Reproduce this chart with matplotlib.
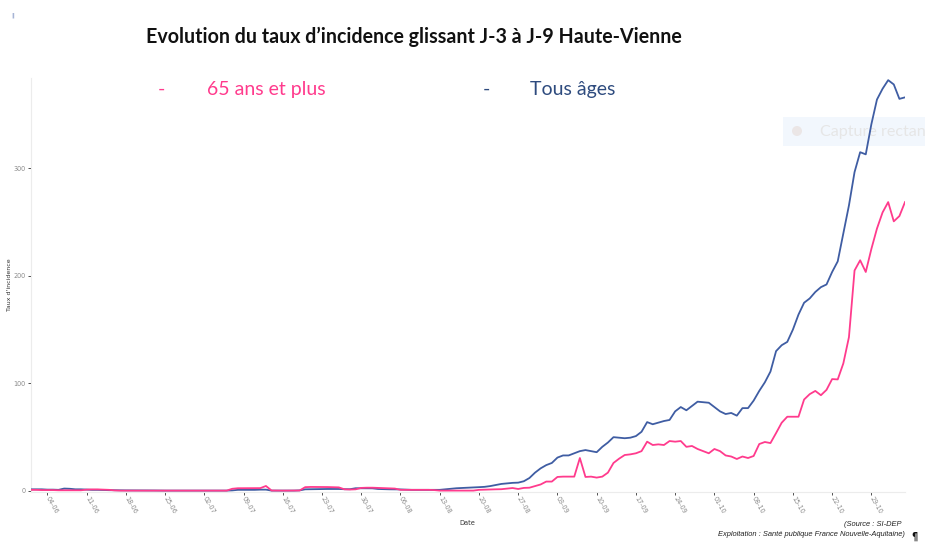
import matplotlib
matplotlib.use("Agg")
import matplotlib.pyplot as plt
import matplotlib.dates as mdates
from matplotlib.patches import Rectangle, Ellipse
import pandas as pd

# ---- data ----
start_date = "2020-06-01"
n_days = 157
tous_ages = ([1.5, 1.5, 1.5, 1.2, 1.2, 1.0, 2.2, 2.0, 1.5, 1.5, 1.2, 1.0, 1.0]
             + [0.8, 0.7, 0.6, 0.5, 0.5, 0.5, 0.4, 0.4, 0.4, 0.4, 0.3, 0.3, 0.3, 0.3,
                0.3, 0.3, 0.3, 0.3, 0.3, 0.3, 0.3, 0.3, 0.3, 0.5]
             + [1.0, 1.0, 1.0, 1.0, 1.2, 1.2]
             + [0.3, 0.3, 0.3, 0.3, 0.3, 0.5]
             + [1.5, 1.6, 1.6, 1.7, 1.8, 1.8, 1.8, 1.6, 1.6]
             + [2.5, 2.5, 2.5, 2.4]
             + [1.8, 1.6, 1.5, 1.5, 1.4, 1.2, 1.0, 1.0, 0.9, 0.9, 1.0, 1.0]
             + [1.5, 2.0, 2.5, 2.8, 3.0, 3.2, 3.5, 3.8, 4.5, 5.5]
             + [6.5, 7, 7.5, 7.7, 9, 12, 17, 21, 24, 26, 31, 33, 33, 35, 37, 38, 37, 36,
                41, 45, 50, 49.5, 49, 49.5, 51, 55, 64, 62, 63.5, 65, 66, 74, 78, 75, 79,
                83, 82.5, 82, 78, 74, 71.5, 72.5, 70, 77, 77, 84, 93, 101, 111, 130,
                135.5, 138.6, 150, 164, 175, 179, 185, 189.5, 192, 203.6, 213.5, 239.5,
                265.5, 296.5, 315, 313, 341, 364, 374, 382, 378, 364.6, 366])
plus_65 = ([1.0, 1.0, 0.8, 0.8, 0.8, 0.6, 0.6, 0.6, 0.6, 0.6, 1.2, 1.4, 1.4]
           + [1.2, 1.0, 0.5, 0.3, 0.3, 0.3, 0.3, 0.3, 0.3, 0.3, 0.3, 0.3, 0.3, 0.3,
              0.3, 0.3, 0.3, 0.3, 0.3, 0.3, 0.3, 0.3, 0.3]
           + [2.0, 2.5, 2.5, 2.5, 2.5, 2.6, 4.6]
           + [0.4, 0.3, 0.3, 0.3, 0.3, 0.4]
           + [3.5, 3.7, 3.7, 3.6, 3.6, 3.5, 3.3]
           + [1.5, 1.3, 1.5]
           + [2.8, 3.0, 3.0, 2.8, 2.5, 2.5, 2.2]
           + [1.0, 1.0, 1.0, 1.0, 1.0, 1.0, 0.8]
           + [0.3, 0.3, 0.3, 0.3, 0.3, 0.3, 0.3]
           + [1.0, 1.2, 1.3, 1.5, 1.6]
           + [2.2, 2.7, 1.8, 2.8, 3, 4.5, 6, 8.7, 8.7, 13, 13.3, 13.3, 13.3, 30.6, 13,
              13.3, 12.4, 13.3, 17, 26, 30, 33.4, 34, 35, 37, 45.8, 42.7, 43.3, 42.7,
              46.4, 45.8, 46.4, 41, 41.8, 39, 37, 35, 39, 37, 33, 32, 29.7, 32, 30.6,
              32.5, 43.6, 45.5, 44.5, 53.8, 63.4, 69, 69, 69, 85, 90, 93, 89, 94, 104,
              103.7, 118.6, 143, 205, 214.5, 203.6, 225, 244, 259, 268.6, 250.7, 255.6,
              268.6])
tick_start = "2020-06-04"
y_ticks = [0, 100, 200, 300]

dates = pd.date_range(start_date, periods=n_days)
tick_dates = pd.date_range(tick_start, dates[-1], freq="7D")

# ---- figure ----
W, H = 925, 542
fig = plt.figure(figsize=(W / 100, H / 100), dpi=100)
fig.patch.set_facecolor("white")

left, right, top, bottom = 30.5, 905, 78, 492
ax = fig.add_axes([left / W, 1 - bottom / H, (right - left) / W, (bottom - top) / H])
ax.set_facecolor("none")

blue = "#3F5DA3"
pink = "#FF3B8D"
ax.plot(dates, tous_ages, color=blue, lw=1.3, zorder=3)
ax.plot(dates, plus_65, color=pink, lw=1.3, zorder=3)

ax.set_xlim(dates[0], dates[-1])
ax.set_ylim(-1, 384)
ax.set_yticks(y_ticks)
ax.set_yticklabels([str(v) for v in y_ticks])
ax.set_xticks(tick_dates)
ax.xaxis.set_major_formatter(mdates.DateFormatter("%d-%m"))

for s in ["top", "right"]:
    ax.spines[s].set_visible(False)
for s in ["left", "bottom"]:
    ax.spines[s].set_color("#ECECEC")
    ax.spines[s].set_linewidth(0.8)

ax.tick_params(axis="both", length=2, width=0.6, color="#333333",
               labelsize=4.7, labelcolor="#8A8A8A", pad=1.5)
for lab in ax.get_xticklabels():
    lab.set_rotation(-60)
    lab.set_ha("left")
    lab.set_va("center")
    lab.set_rotation_mode("anchor")

ax.set_xlabel("Date", fontsize=4.8, color="#333333", labelpad=4)
ax.set_ylabel("Taux d'incidence", fontsize=4.5, color="#333333", labelpad=1)

# ---- overlay "Capture rectan" ----
rect = Rectangle((783 / W, 1 - 146 / H), (W - 783) / W, 29 / H, transform=fig.transFigure,
                 facecolor="#F2F7FD", edgecolor="none", zorder=1, clip_on=False)
ax.add_artist(rect)
circ = Ellipse((797 / W, 1 - 131 / H), 10 / W, 10 / H, transform=fig.transFigure,
               facecolor="#EBE6E6", edgecolor="none", zorder=1.5, clip_on=False)
ax.add_artist(circ)
ax.text(820 / W, 1 - 132 / H, "Capture rectan", transform=fig.transFigure,
        fontsize=11.6, color="#E6E6E6", family="Lato", va="center", ha="left",
        zorder=1.5, clip_on=False)

# ---- titles and legend text ----
fig.text(414 / W, 1 - 37 / H, "Evolution du taux d’incidence glissant J-3 à J-9 Haute-Vienne",
         fontsize=14.1, fontweight="bold", family="Lato", ha="center", va="center",
         color="#111111")
fig.text(161 / W, 1 - 89 / H, "-", fontsize=14, family="Lato", color=pink,
         ha="center", va="center")
fig.text(207 / W, 1 - 89 / H, "65 ans et plus", fontsize=14, family="Lato", color=pink,
         ha="left", va="center")
fig.text(486 / W, 1 - 89 / H, "-", fontsize=14, family="Lato", color="#2E4B7E",
         ha="center", va="center")
fig.text(530 / W, 1 - 89 / H, "Tous âges", fontsize=14, family="Lato", color="#2E4B7E",
         ha="left", va="center")

# ---- small marks and source ----
fig.text(13 / W, 1 - 15 / H, "\u2016", fontsize=4, color="#7A8FC0", ha="center", va="center")
fig.text(902 / W, 1 - 524 / H, "(Source : SI-DEP", fontsize=5.4, style="italic",
         family="Liberation Sans", ha="right", va="center", color="#222222")
fig.text(905 / W, 1 - 535 / H, "Exploitation : Santé publique France Nouvelle-Aquitaine)",
         fontsize=5.4, style="italic", family="Liberation Sans", ha="right", va="center",
         color="#222222")
fig.text(914 / W, 1 - 537 / H, "¶", fontsize=7, fontweight="bold", ha="center",
         va="center", color="#111111")

fig.savefig("out.png", dpi=100)
